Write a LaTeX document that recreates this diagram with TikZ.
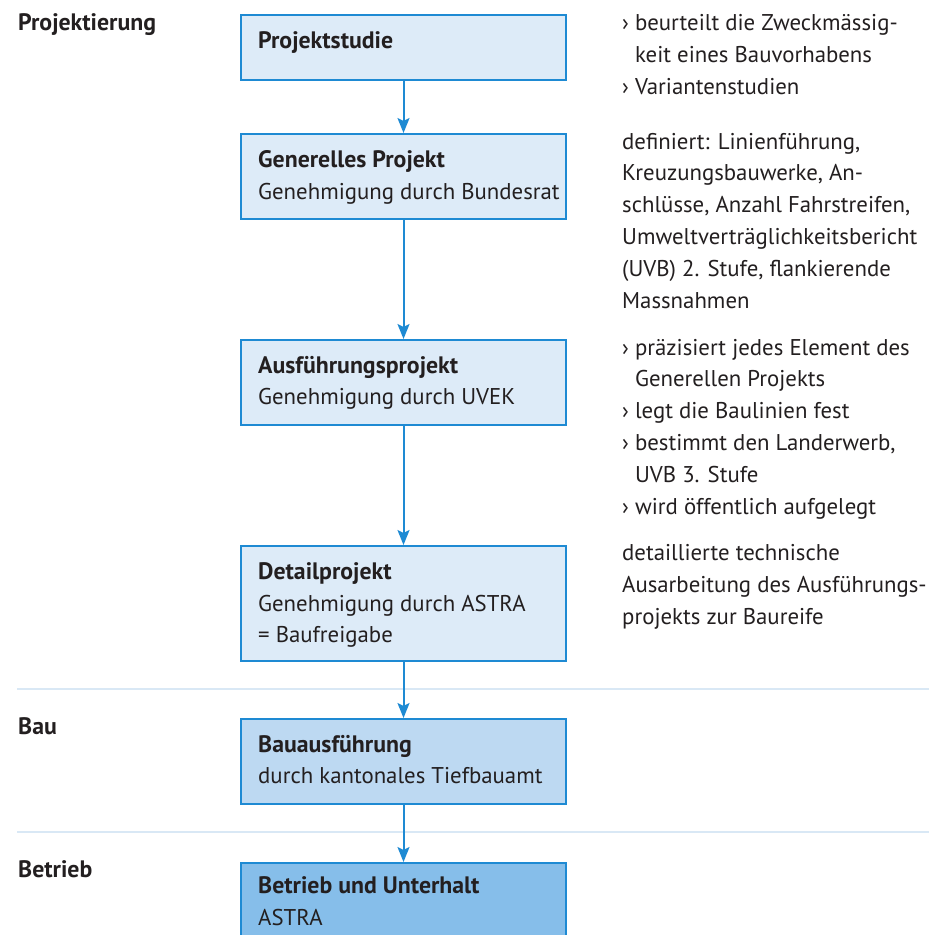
\documentclass[tikz,border=0pt]{standalone}
\usepackage{fontspec}
\setmainfont{PT Sans}
\usetikzlibrary{arrows.meta}
\definecolor{txt}{HTML}{231F20}
\definecolor{boxline}{HTML}{1E8AD3}
\definecolor{fillA}{HTML}{DDEBF8}
\definecolor{fillB}{HTML}{BDD9F2}
\definecolor{fillC}{HTML}{86BEEA}
\definecolor{sepline}{HTML}{D9E8F5}
\tikzset{
  box/.style={draw=boxline, line width=2pt, anchor=north west, minimum width=325pt, inner sep=0pt},
  lbl/.style={anchor=base west, inner sep=0pt, text=txt, font=\fontsize{22.8}{31.8}\selectfont, align=left},
  lblb/.style={lbl, font=\fontsize{23.8}{32}\selectfont\bfseries},
  arr/.style={draw=boxline, line width=2pt, -{Stealth[length=15pt,width=12pt,inset=3pt]}},
  sep/.style={draw=sepline, line width=2pt}
}
\begin{document}
\begin{tikzpicture}[x=1pt,y=-1pt]
\clip (0,0) rectangle (929,935);
\fill[white] (0,0) rectangle (929,935);
% separators
\coordinate (s1a) at (17,689); \coordinate (s1b) at (929,689);
\coordinate (s2a) at (17,832); \coordinate (s2b) at (929,832);
\draw[sep] (s1a) -- (s1b);
\draw[sep] (s2a) -- (s2b);
% boxes
\node[box, fill=fillA, minimum height=65pt] (b1) at (240,14) {};
\node[box, fill=fillA, minimum height=85pt] (b2) at (240,133) {};
\node[box, fill=fillA, minimum height=85pt] (b3) at (240,339) {};
\node[box, fill=fillA, minimum height=115pt] (b4) at (240,545) {};
\node[box, fill=fillB, minimum height=85pt] (b5) at (240,718) {};
\node[box, fill=fillC, minimum height=90pt] (b6) at (240,862) {};
% arrows
\draw[arr] (b1.south) -- (b2.north);
\draw[arr] (b2.south) -- (b3.north);
\draw[arr] (b3.south) -- (b4.north);
\draw[arr] (b4.south) -- (b5.north);
\draw[arr] (b5.south) -- (b6.north);
% box texts
\node[lblb] (t1) at (258,48) {Projektstudie};
\node[lblb] (t2) at (258,167) {Generelles Projekt};
\node[lbl] (t2b) at (258,199) {Genehmigung durch Bundesrat};
\node[lblb] (t3) at (258,373) {Ausführungsprojekt};
\node[lbl] (t3b) at (258,404) {Genehmigung durch UVEK};
\node[lblb] (t4) at (258,579) {Detailprojekt};
\node[lbl] (t4b) at (258,611) {Genehmigung durch ASTRA};
\node[lbl] (t4c) at (258,642) {= Baufreigabe};
\node[lblb] (t5) at (258,752) {Bauausführung};
\node[lbl] (t5b) at (258,783) {durch kantonales Tiefbauamt};
\node[lblb] (t6) at (258,893) {Betrieb und Unterhalt};
\node[lbl] (t6b) at (258,925) {ASTRA};
% phase labels
\node[lblb] (p1) at (18,30) {Projektierung};
\node[lblb] (p2) at (18,734) {Bau};
\node[lblb] (p3) at (18,877) {Betrieb};
% right notes (anchored at the baseline of their last line)
\node[lbl] (n1) at (622,94) {› beurteilt die Zweckmässig-\\\phantom{› }keit eines Bauvorhabens\\› Variantenstudien};
\node[lbl] (n2) at (622,308) {definiert: Linienführung,\\Kreuzungsbauwerke, An-\\schlüsse, Anzahl Fahrstreifen,\\Umweltverträglichkeitsbericht\\(UVB) 2. Stufe, flankierende\\Massnahmen};
\node[lbl] (n3) at (622,514) {› präzisiert jedes Element des\\\phantom{› }Generellen Projekts\\› legt die Baulinien fest\\› bestimmt den Landerwerb,\\\phantom{› }UVB 3. Stufe\\› wird öffentlich aufgelegt};
\node[lbl] (n4) at (622,624) {detaillierte technische\\Ausarbeitung des Ausführungs-\\projekts zur Baureife};
\end{tikzpicture}
\end{document}
